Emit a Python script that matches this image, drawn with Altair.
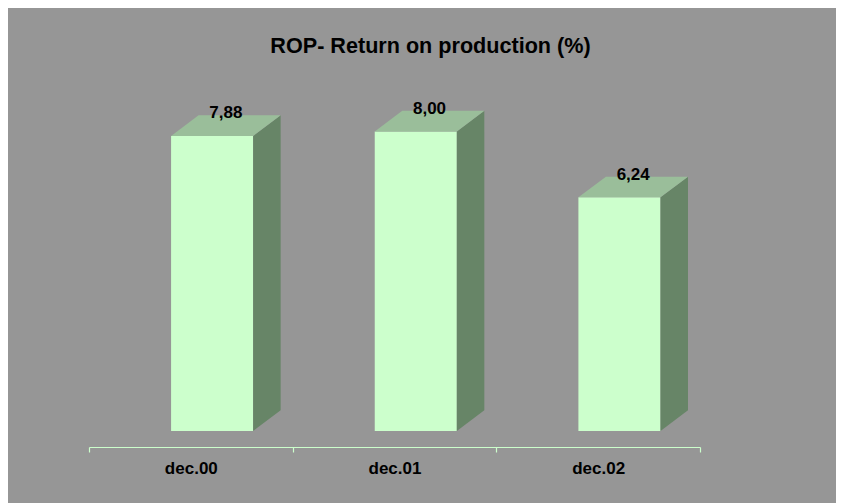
import altair as alt
import pandas as pd

# ---- data ----
categories = ["dec.00", "dec.01", "dec.02"]
values = [7.88, 8.00, 6.24]
title_text = "ROP- Return on production (%)"

# ---- 3D geometry (in data units) ----
L, R = 0.403, 0.806      # front face extent inside each category band
DX, DY = 0.135, 0.553    # depth offset of the 3D box

front_rows, side_rows, top_rows, label_rows = [], [], [], []
for i, (c, v) in enumerate(zip(categories, values)):
    front_rows.append({"cat": c, "px": i + L, "px2": i + R, "py": 0.0, "py2": v})
    side_rows.append({"cat": c, "px": i + R, "py": 0.0, "py2": v})
    side_rows.append({"cat": c, "px": i + R + DX, "py": DY, "py2": v + DY})
    top_rows.append({"cat": c, "py": v, "px": i + L, "px2": i + R})
    top_rows.append({"cat": c, "py": v + DY, "px": i + L + DX, "px2": i + R + DX})
    label_rows.append({"cat": c, "px": i + (L + R) / 2 + DX / 2, "py": v + DY,
                       "label": f"{v:.2f}".replace(".", ",")})

front_df = pd.DataFrame(front_rows)
side_df = pd.DataFrame(side_rows)
top_df = pd.DataFrame(top_rows)
label_df = pd.DataFrame(label_rows)

FONT = "Liberation Sans"
xscale = alt.Scale(domain=[0, len(categories)], nice=False, zero=False)
yscale = alt.Scale(domain=[0, 9], nice=False, zero=True)

cat_js = "[" + ",".join("'" + c + "'" for c in categories) + "]"
xaxis = alt.Axis(
    values=list(range(len(categories) + 1)),
    title=None, grid=False, offset=16,
    domainColor="#CCFFCC", domainWidth=1.2,
    tickColor="#CCFFCC", tickSize=5, tickWidth=1.2,
    labelOffset=611 / (2 * len(categories)),
    labelExpr=f"datum.value < {len(categories)} ? {cat_js}[datum.value] : ''",
    labelFont=FONT, labelFontSize=17, labelFontWeight="bold", labelColor="black",
    labelBaseline="alphabetic", labelPadding=21, labelAlign="center",
)

X = alt.X("px:Q", scale=xscale, axis=xaxis, title=None)
Y = alt.Y("py:Q", scale=yscale, axis=None, stack=None, title=None)

front = alt.Chart(front_df).mark_rect(color="#CCFFCC").encode(
    x=X, x2="px2:Q", y=Y, y2="py2:Q",
)

side = alt.Chart(side_df).mark_area(color="#678567", orient="vertical", interpolate="linear").encode(
    x=X, y=Y, y2="py2:Q", detail="cat:N",
)

top = alt.Chart(top_df).mark_area(color="#9ABE9A", orient="horizontal", interpolate="linear").encode(
    y=Y,
    x=alt.X("px:Q", scale=xscale, axis=xaxis, stack=None, title=None),
    x2="px2:Q",
    detail="cat:N",
)

labels = alt.Chart(label_df).mark_text(
    font=FONT, fontSize=17, fontWeight="bold", color="black",
    align="center", baseline="alphabetic", dy=3,
).encode(
    x=X, y=Y, text="label:N",
)

chart = alt.layer(front, side, top, labels).properties(
    width=611,
    height=337,
    title=alt.TitleParams(
        text=title_text, font=FONT, fontSize=21.6, fontWeight="bold", color="black",
        anchor="middle", baseline="alphabetic", offset=19, dx=36,
    ),
    background="#969696",
    padding={"left": 81, "top": 86, "right": 136, "bottom": 72},
    autosize=alt.AutoSizeParams(type="none"),
).configure_view(stroke=None)

chart.save("out.html", embed_options={"renderer": "svg", "actions": False})
